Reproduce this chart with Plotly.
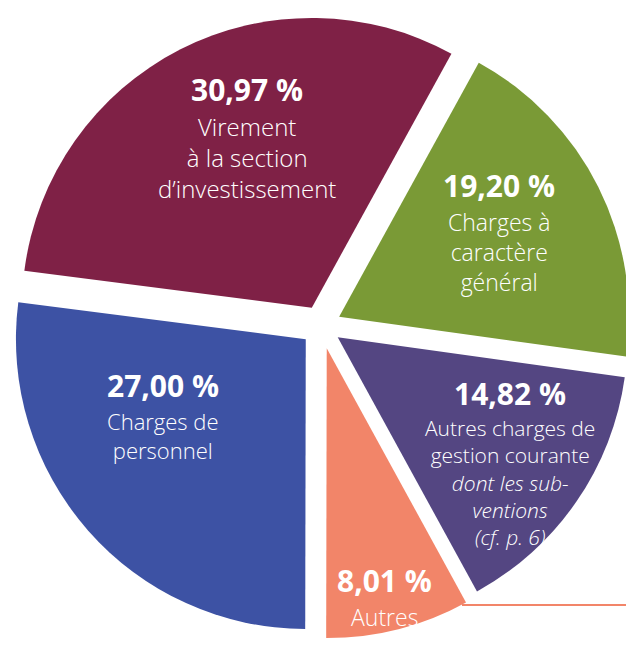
import plotly.graph_objects as go

# Slices in drawing order, clockwise from about one o'clock
labels = [
    "Charges à caractère général",
    "Autres charges de gestion courante",
    "Autres",
    "Charges de personnel",
    "Virement à la section d’investissement",
]
shares = [19.20, 14.82, 8.01, 27.00, 30.97]

# caption lines shown under the percentage in each slice
captions = [
    ["Charges à", "caractère", "général"],
    ["Autres charges de", "gestion courante",
     "<i>dont les sub-</i>", "<i>ventions</i>", "<i>(cf. p. 6)</i>"],
    ["Autres"],
    ["Charges de", "personnel"],
    ["Virement", "à la section", "d’investissement"],
]

COLOURS = ["#7a9a36", "#544682", "#f28569", "#3d52a4", "#7f2146"]
PULLS = [0.07, 0.07, 0.08, 0.07, 0.07]

# the page body adds an 8px margin, so the figure is drawn 8px smaller
# and every page position below is shifted by that offset
W, H = 626, 642
OFF = 8
# x centre and percentage baseline of each label, in page pixels
LABEL_X = [499, 510, 384, 163, 247]
LABEL_BASE = [197, 405, 592, 397, 101]
CAPTION_SIZE = [23, 21, 23, 22, 24]


def pct(v: float) -> str:
    return f"{v:.2f}".replace(".", ",") + " %"


fig = go.Figure(
    go.Pie(
        labels=labels,
        values=shares,
        sort=False,
        direction="clockwise",
        rotation=28.8,
        pull=PULLS,
        marker=dict(colors=COLOURS, line=dict(width=0)),
        textinfo="none",
        hovertemplate="<b>%{label}</b><br>%{value:.2f} %<extra></extra>",
        domain=dict(x=[0, 1], y=[0.01, 1]),
        showlegend=False,
    )
)

# white labels over the slices: bold percentage, then the caption below it
for share, lines, px, base, size in zip(shares, captions, LABEL_X, LABEL_BASE, CAPTION_SIZE):
    split = 1 - (base + 9 - OFF) / H
    common = dict(x=(px - OFF) / W, y=split, xref="paper", yref="paper",
                  showarrow=False, align="center", xanchor="center",
                  borderpad=0, borderwidth=0)
    fig.add_annotation(
        text=f"<b>{pct(share)}</b>",
        yanchor="bottom",
        font=dict(family="Open Sans", size=30, color="white"),
        **common,
    )
    fig.add_annotation(
        text="<br>".join(lines),
        yanchor="top",
        font=dict(family="Open Sans", size=size, color="white", weight=300),
        **common,
    )

# thin rule leaving the small slice towards the right edge
rule_y = 1 - (605 - OFF) / H
fig.add_shape(
    type="line",
    xref="paper",
    yref="paper",
    x0=(462 - OFF) / W,
    x1=1,
    y0=rule_y,
    y1=rule_y,
    line=dict(color=COLOURS[2], width=2),
)

fig.update_layout(
    width=W,
    height=H,
    margin=dict(l=0, r=0, t=0, b=0),
    paper_bgcolor="white",
    plot_bgcolor="white",
)

fig.write_html("out.html")
